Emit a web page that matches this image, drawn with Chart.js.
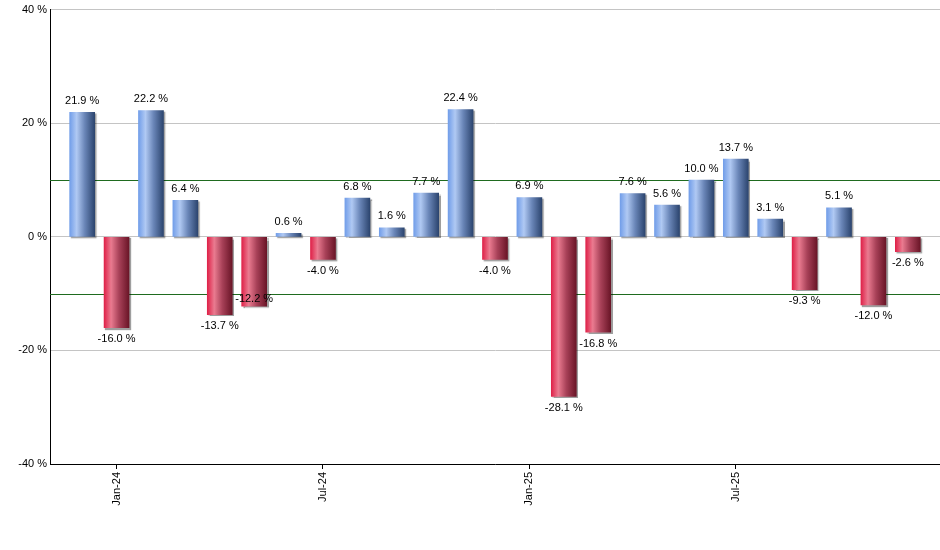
<!DOCTYPE html>
<html>
<head>
<meta charset="utf-8">
<script src="https://cdn.jsdelivr.net/npm/chart.js@4/dist/chart.umd.min.js"></script>
<style>
html,body{margin:0;padding:0;background:#fff;}
#wrap{width:940px;height:550px;position:relative;}
</style>
</head>
<body>
<div id="wrap"><canvas id="c" width="940" height="550"></canvas></div>
<script>
// ---- data ----
const months = ['Dec-23','Jan-24','Feb-24','Mar-24','Apr-24','May-24','Jun-24','Jul-24','Aug-24','Sep-24','Oct-24','Nov-24','Dec-24',
                'Jan-25','Feb-25','Mar-25','Apr-25','May-25','Jun-25','Jul-25','Aug-25','Sep-25','Oct-25','Nov-25','Dec-25'];
const returns = [21.9,-16.0,22.2,6.4,-13.7,-12.2,0.6,-4.0,6.8,1.6,7.7,22.4,-4.0,
                 6.9,-28.1,-16.8,7.6,5.6,10.0,13.7,3.1,-9.3,5.1,-12.0,-2.6];
const tickIndices = [1,7,13,19];
const yTicks = [-40,-20,0,20,40];
const refLines = [10,-10];
const insideLabelIdx = [5];

const FONT = 'Liberation Sans, Arial, sans-serif';
const BAR_W = 25;

function barGradient(ctx){
  const chart = ctx.chart;
  const sc = chart.scales && chart.scales.x;
  const v = ctx.raw ? ctx.raw.y : 0;
  const pos = v >= 0;
  if(!sc || !chart.chartArea) return pos ? '#6f96dc' : '#c8304f';
  const x = sc.getPixelForValue(ctx.dataIndex);
  const g = chart.ctx.createLinearGradient(x - BAR_W/2, 0, x + BAR_W/2, 0);
  if(pos){
    g.addColorStop(0, '#729ee9');
    g.addColorStop(0.28, '#b0c9f3');
    g.addColorStop(0.6, '#6a86b8');
    g.addColorStop(1, '#2c456f');
  } else {
    g.addColorStop(0, '#df2249');
    g.addColorStop(0.28, '#ea7b90');
    g.addColorStop(0.6, '#a84158');
    g.addColorStop(1, '#6a1527');
  }
  return g;
}

const refLinePlugin = {
  id:'refLines',
  beforeDatasetsDraw(chart){
    const {ctx, chartArea:a, scales:{y}} = chart;
    ctx.save();
    ctx.strokeStyle = '#1f6b1f';
    ctx.lineWidth = 1;
    refLines.forEach(v=>{
      const py = Math.round(y.getPixelForValue(v)) + 0.5;
      ctx.beginPath(); ctx.moveTo(a.left, py); ctx.lineTo(a.right, py); ctx.stroke();
    });
    ctx.restore();
    ctx.save();
    ctx.shadowColor = 'rgba(0,0,0,0.38)';
    ctx.shadowOffsetX = 1.5;
    ctx.shadowOffsetY = 1.5;
    ctx.shadowBlur = 1;
  },
  afterDatasetsDraw(chart){
    const ctx = chart.ctx;
    ctx.restore();
    const meta = chart.getDatasetMeta(0);
    ctx.save();
    ctx.font = '11px ' + FONT;
    ctx.fillStyle = '#000';
    ctx.textAlign = 'center';
    meta.data.forEach((bar, i)=>{
      const v = returns[i];
      const txt = v.toFixed(1) + ' %';
      if(insideLabelIdx.includes(i)){
        ctx.textBaseline = 'bottom';
        ctx.fillText(txt, bar.x, bar.y - 2);
      } else if(v >= 0){
        ctx.textBaseline = 'bottom';
        ctx.fillText(txt, bar.x, bar.y - 6);
      } else {
        ctx.textBaseline = 'top';
        ctx.fillText(txt, bar.x, bar.y + 6);
      }
    });
    ctx.restore();
  }
};

new Chart(document.getElementById('c'), {
  type:'bar',
  data:{
    datasets:[{
      data: returns.map((v,i)=>({x:i, y:v})),
      backgroundColor: barGradient,
      borderWidth:0,
      barThickness: BAR_W
    }]
  },
  options:{
    responsive:false,
    animation:false,
    devicePixelRatio:1,
    layout:{padding:{top:9, right:0, left:0, bottom:0}},
    plugins:{legend:{display:false}, tooltip:{enabled:false}},
    scales:{
      x:{
        type:'linear',
        min:-0.935, max:24.935,
        offset:false,
        afterBuildTicks(scale){ scale.ticks = tickIndices.map(v=>({value:v})); },
        afterFit(scale){ scale.height = 86; },
        ticks:{
          autoSkip:false, maxRotation:90, minRotation:90, padding:3,
          color:'#000', font:{family:FONT, size:11},
          callback:(v)=>months[v] || ''
        },
        grid:{offset:false, drawOnChartArea:false, drawTicks:true, tickLength:5, color:'#000'},
        border:{color:'#000', width:1}
      },
      y:{
        min:-40, max:40,
        afterBuildTicks(scale){ scale.ticks = yTicks.map(v=>({value:v})); },
        afterFit(scale){ scale.width = 50; },
        ticks:{
          padding:3, color:'#000', font:{family:FONT, size:11},
          callback:(v)=>v + ' %'
        },
        grid:{color:'#c4c4c4', drawTicks:false},
        border:{color:'#000', width:1}
      }
    }
  },
  plugins:[refLinePlugin]
});
</script>
</body>
</html>
